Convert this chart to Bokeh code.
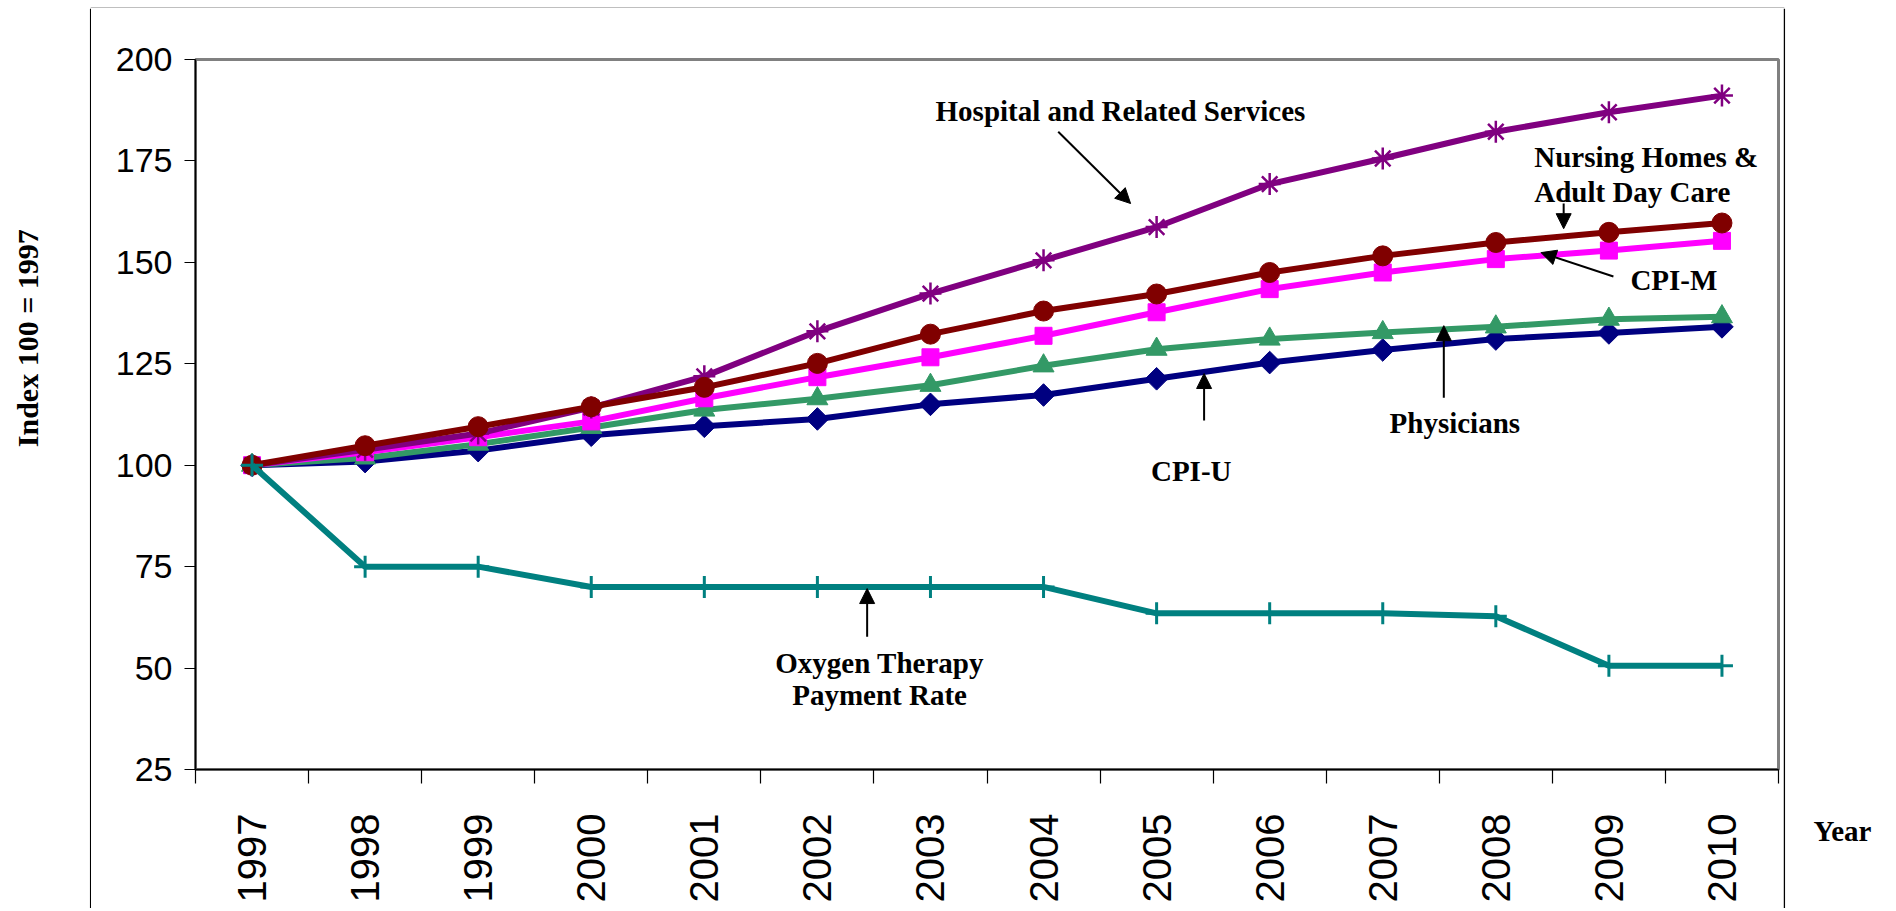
from math import pi
from bokeh.plotting import figure
from bokeh.layouts import row, column
from bokeh.models import (FixedTicker, Arrow, NormalHead, ColumnDataSource, Range1d)
from bokeh.core.properties import value
from bokeh.embed import file_html
from bokeh.resources import INLINE

# ---------------- data ----------------
years = [1997, 1998, 1999, 2000, 2001, 2002, 2003, 2004, 2005, 2006, 2007, 2008, 2009, 2010]
hospital = [100, 103.8, 107.8, 114.2, 121.9, 133.0, 142.3, 150.5, 158.7, 169.3, 175.6, 182.2, 187.0, 191.1]
nursing = [100, 104.8, 109.5, 114.4, 119.2, 125.1, 132.3, 138.0, 142.2, 147.5, 151.6, 154.9, 157.4, 159.7]
cpi_m = [100, 103.2, 106.9, 110.8, 116.5, 121.7, 126.6, 131.9, 137.7, 143.4, 147.5, 150.8, 152.9, 155.3]
physicians = [100, 101.8, 105.2, 109.3, 113.6, 116.4, 119.7, 124.5, 128.6, 131.1, 132.7, 134.1, 136.0, 136.6]
cpi_u = [100, 100.9, 103.6, 107.4, 109.6, 111.4, 115.0, 117.3, 121.3, 125.3, 128.4, 131.1, 132.6, 134.1]
oxygen = [100, 75, 75, 70, 70, 70, 70, 70, 63.5, 63.5, 63.5, 62.8, 50.6, 50.6]
y_ticks = [25, 50, 75, 100, 125, 150, 175, 200]
y_title = "Index  100 = 1997"
x_title = "Year"

xi = list(range(len(years)))

SERIF = "Liberation Serif"
SANS = "Liberation Sans"

# page geometry (pixels)
LEFT_W, MAIN_W, RIGHT_W = 91, 1692, 107
TOP_H, MAIN_H = 8, 900


def blank(width, height, x0, x1, y0, y1):
    f = figure(width=width, height=height, x_range=Range1d(x0, x1), y_range=Range1d(y1, y0),
               x_axis_type=None, y_axis_type=None, output_backend="svg",
               toolbar_location=None, min_border=0, frame_align=False)
    f.min_border_left = f.min_border_right = f.min_border_top = f.min_border_bottom = 0
    f.outline_line_color = None
    f.grid.visible = False
    f.background_fill_color = "white"
    f.border_fill_color = "white"
    return f


# ---------------- main plot ----------------
p = figure(width=MAIN_W, height=MAIN_H,
           x_range=Range1d(-0.5, len(years) - 0.5), y_range=Range1d(25, 200),
           output_backend="svg", toolbar_location=None, frame_align=False,
           min_border_left=104, min_border_right=5,
           min_border_top=51, min_border_bottom=139)
p.background_fill_color = "white"
p.border_fill_color = "white"
p.grid.visible = False
p.outline_line_color = "#808080"
p.outline_line_width = 3

xa = p.xaxis[0]
xa.ticker = FixedTicker(ticks=xi, minor_ticks=[i - 0.5 for i in range(len(years) + 1)])
xa.major_label_overrides = {i: str(y) for i, y in zip(xi, years)}
xa.major_tick_line_color = None
xa.major_tick_out = 0
xa.major_tick_in = 0
xa.minor_tick_out = 14
xa.minor_tick_in = 0
xa.minor_tick_line_color = "black"
xa.minor_tick_line_width = 1.2
xa.major_label_orientation = pi / 2
xa.major_label_text_font = SANS
xa.major_label_text_font_size = "40px"
xa.major_label_text_color = "black"
xa.major_label_standoff = 30
xa.axis_line_color = "black"
xa.axis_line_width = 1.5

ya = p.yaxis[0]
ya.ticker = FixedTicker(ticks=y_ticks)
ya.minor_tick_line_color = None
ya.major_tick_out = 11
ya.major_tick_in = 0
ya.major_tick_line_color = "black"
ya.major_tick_line_width = 1.2
ya.major_label_text_font = SANS
ya.major_label_text_font_size = "34px"
ya.major_label_text_color = "black"
ya.major_label_standoff = 12
ya.axis_line_color = "black"
ya.axis_line_width = 1.5

LW = 6
p.line(xi, cpi_u, line_color="#000080", line_width=LW)
p.scatter(xi, cpi_u, marker="square", angle=pi / 4, size=16, fill_color="#000080", line_color="#000080")
p.line(xi, physicians, line_color="#339966", line_width=LW)
p.scatter(xi, physicians, marker="triangle", size=21, fill_color="#339966", line_color="#339966")
p.line(xi, cpi_m, line_color="#FF00FF", line_width=LW)
p.scatter(xi, cpi_m, marker="square", size=17, fill_color="#FF00FF", line_color="#FF00FF")
p.line(xi, hospital, line_color="#800080", line_width=LW)
p.scatter(xi, hospital, marker="asterisk", size=22, line_color="#800080", line_width=2.5)
p.line(xi, nursing, line_color="#800000", line_width=LW)
p.scatter(xi, nursing, marker="circle", size=20, fill_color="#800000", line_color="#800000")
p.line(xi, oxygen, line_color="#008080", line_width=LW)
p.scatter(xi, oxygen, marker="cross", size=22, line_color="#008080", line_width=3)

# annotations
ann_text = ["Hospital and Related Services", "Nursing Homes &", "Adult Day Care",
            "CPI-M", "CPI-U", "Physicians", "Oxygen Therapy", "Payment Rate"]
ann_x = [7.68, 11.34, 11.34, 12.19, 7.95, 10.06, 5.55, 5.55]
ann_y = [187.4, 176.0, 167.4, 145.7, 98.5, 110.5, 51.3, 43.4]
ann_align = ["center", "left", "left", "left", "left", "left", "center", "center"]
src = ColumnDataSource(dict(x=ann_x, y=ann_y, text=ann_text, align=ann_align))
p.text(x="x", y="y", text="text", source=src, text_align="align",
       text_baseline="alphabetic", text_font=value(SERIF), text_font_style="bold",
       text_font_size="29px", text_color="black")

arrows = [  # (x0, y0, x1, y1)
    (7.13, 182.2, 7.77, 164.5),
    (11.60, 164.5, 11.60, 158.3),
    (12.04, 146.5, 11.40, 152.4),
    (8.42, 111.0, 8.42, 122.6),
    (10.54, 116.6, 10.54, 134.4),
    (5.44, 57.7, 5.44, 69.6),
]
for x0, y0, x1, y1 in arrows:
    p.add_layout(Arrow(end=NormalHead(size=15, fill_color="black", line_color="black"),
                       x_start=x0, y_start=y0, x_end=x1, y_end=y1,
                       line_color="black", line_width=2))

# ---------------- side panels (page-pixel coordinates) ----------------
left = blank(LEFT_W, MAIN_H, 0, LEFT_W, TOP_H, TOP_H + MAIN_H)
left.text(x=[27], y=[334], text=[y_title], angle=pi / 2, text_align="center",
          text_baseline="middle", text_font=value(SERIF), text_font_style="bold",
          text_font_size="30px", text_color="black")
left.line(x=[90.2, 90.2], y=[TOP_H, TOP_H + MAIN_H], line_color="black", line_width=1.5)

x_r0 = LEFT_W + MAIN_W
right = blank(RIGHT_W, MAIN_H, x_r0, x_r0 + RIGHT_W, TOP_H, TOP_H + MAIN_H)
right.text(x=[1842], y=[830], text=[x_title], text_align="center", text_baseline="middle",
           text_font=value(SERIF), text_font_style="bold", text_font_size="29px",
           text_color="black")
right.line(x=[x_r0 + 0.8, x_r0 + 0.8], y=[TOP_H, TOP_H + MAIN_H], line_color="black", line_width=1.5)

total_w = LEFT_W + MAIN_W + RIGHT_W
top = blank(total_w, TOP_H, 0, total_w, 0, TOP_H)
top.line(x=[90.2, x_r0 + 0.8], y=[4, 4], line_color="black", line_width=1.5)

layout = column(top, row(left, p, right, spacing=0), spacing=0)

open("out.html", "w").write(file_html(layout, INLINE))
